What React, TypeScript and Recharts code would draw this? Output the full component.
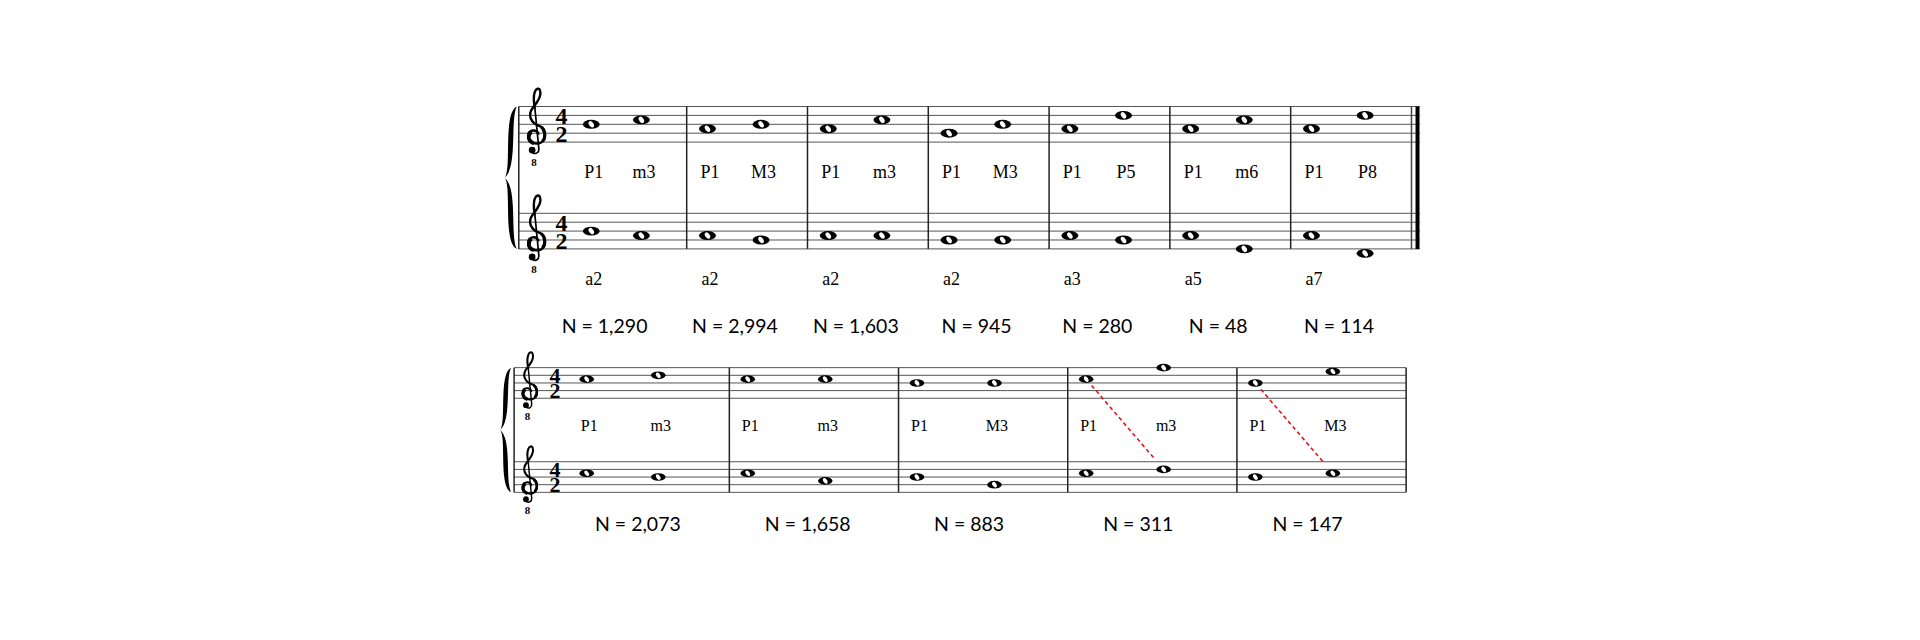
import { ReferenceLine, Scatter, ScatterChart, XAxis, YAxis } from "recharts";

// first system: interval of the second note against P1, and the melodic step below
const topIntervals1 = ["m3", "M3", "m3", "M3", "P5", "m6", "P8"];
const bottomIntervals1 = ["a2", "a2", "a2", "a2", "a3", "a5", "a7"];
const counts1 = ["1,290", "2,994", "1,603", "945", "280", "48", "114"];
// staff steps: 0 = bottom line, 8 = top line; [first note, second note] per bar
const upperNotes1 = [[4, 5], [3, 4], [3, 5], [2, 4], [3, 6], [3, 5], [3, 6]];
const lowerNotes1 = [[4, 3], [3, 2], [3, 3], [2, 2], [3, 2], [3, 0], [3, -1]];

// second system
const topIntervals2 = ["m3", "m3", "M3", "m3", "M3"];
const counts2 = ["2,073", "1,658", "883", "311", "147"];
const upperNotes2 = [[5, 6], [5, 5], [4, 4], [5, 8], [4, 7]];
const lowerNotes2 = [[5, 4], [5, 3], [4, 2], [5, 6], [4, 5]];
const crossedBars2 = [3, 4];

const SERIF = "'Liberation Serif', 'Times New Roman', serif";
const SANS = "Lato, 'Open Sans', sans-serif";

type Layout = {
  origin: number;
  unit: number;
  base: number;
  step: number;
  xDomain: [number, number];
  yDomain: [number, number];
  upper: number;
  staffStart: number;
  staffEnd: number;
  bars: number;
  noteX: number[];
  firstNoteX: number[];
  labelSize: number;
  labelRow: number;
  aRow: number;
  countRow: number;
  countX: number;
  firstCountX: number;
  countAnchor: "middle" | "start";
  clefX: number;
  timeX: number;
  timeSize: number;
  braceX: number;
  braceW: number;
  finalThick: boolean;
};

const sys1: Layout = {
  origin: 566.2,
  unit: 120.8,
  base: 249,
  step: 4.45,
  xDomain: [-0.62, 7.2],
  yDomain: [-22, 42],
  upper: 24,
  staffStart: -0.39,
  staffEnd: 7.07,
  bars: 7,
  noteX: [0.172, 0.616],
  firstNoteX: [0.21, 0.625],
  labelSize: 18,
  labelRow: 15.9,
  aRow: -8.1,
  countRow: -18.8,
  countX: 0.4,
  firstCountX: 0.32,
  countAnchor: "middle",
  clefX: -0.25,
  timeX: -0.037,
  timeSize: 24,
  braceX: -0.507,
  braceW: 12,
  finalThick: true
};

const sys2: Layout = {
  origin: 560.1,
  unit: 169.2,
  base: 492.3,
  step: 3.825,
  xDomain: [-0.45, 5.1],
  yDomain: [-12, 38],
  upper: 24.6,
  staffStart: -0.272,
  staffEnd: 5.0,
  bars: 5,
  noteX: [0.109, 0.567],
  firstNoteX: [0.157, 0.58],
  labelSize: 16,
  labelRow: 16.1,
  aRow: 0,
  countRow: -10.0,
  countX: 0.21,
  firstCountX: 0.206,
  countAnchor: "start",
  clefX: -0.184,
  timeX: -0.03,
  timeSize: 22,
  braceX: -0.355,
  braceW: 11,
  finalThick: false
};

function Notehead({ cx, cy, sp }: { cx: number; cy: number; sp: number }) {
  return (
    <g transform={`translate(${cx},${cy})`}>
      <ellipse rx={sp * 0.95} ry={sp * 0.5} fill="#000" />
      <ellipse rx={sp * 0.4} ry={sp * 0.25} transform="rotate(55)" fill="#fff" />
    </g>
  );
}

// treble clef drawn in staff-space units, origin on the G line
function Clef({ cx, cy, sp }: { cx: number; cy: number; sp: number }) {
  return (
    <g>
      <g transform={`translate(${cx},${cy}) scale(${sp})`}>
        <path
          d="M 0.3 0.05 C 0.1 -0.5 -0.8 -0.4 -0.85 0.25 C -0.9 1.0 0.0 1.35 0.6 1.05 C 1.25 0.7 1.2 -0.55 0.45 -0.8 C -0.5 -1.1 -1.0 -2.0 -0.3 -2.9 C 0.3 -3.6 0.65 -4.3 0.5 -4.75 C 0.4 -5.15 0.05 -5.05 -0.1 -4.65 C -0.3 -4.1 -0.2 -3.4 -0.1 -2.9"
          fill="none"
          stroke="#000"
          strokeWidth={0.27}
          strokeLinecap="round"
        />
        <path d="M -0.5 -0.15 C -0.95 0.3 -0.85 0.95 -0.2 1.15" fill="none" stroke="#000" strokeWidth={0.42} />
        <path d="M 0.75 0.9 C 1.15 0.5 1.1 -0.4 0.6 -0.7" fill="none" stroke="#000" strokeWidth={0.34} />
        <path d="M -0.1 -2.9 L 0.35 1.7 C 0.4 2.2 0.0 2.4 -0.35 2.2" fill="none" stroke="#000" strokeWidth={0.19} />
        <circle cx={-0.4} cy={1.9} r={0.38} fill="#000" />
      </g>
      <text
        x={cx - 0.2 * sp}
        y={cy + 3.35 * sp + 3.4}
        textAnchor="middle"
        fontFamily={SERIF}
        fontWeight="bold"
        fontSize={11}
        fill="#000"
      >
        8
      </text>
    </g>
  );
}

function Brace({ cx, cy, w, h }: { cx: number; cy: number; w: number; h: number }) {
  const d = [
    `M ${w} ${-h}`,
    `C ${-0.15 * w} ${-0.9 * h} ${0.6 * w} ${-0.12 * h} 0 0`,
    `C ${0.6 * w} ${0.12 * h} ${-0.15 * w} ${0.9 * h} ${w} ${h}`,
    `C ${0.45 * w} ${0.8 * h} ${1.1 * w} ${0.15 * h} 0 0`,
    `C ${1.1 * w} ${-0.15 * h} ${0.45 * w} ${-0.8 * h} ${w} ${-h}`,
    "Z"
  ].join(" ");
  return <path transform={`translate(${cx},${cy})`} d={d} fill="#000" />;
}

type SystemProps = {
  L: Layout;
  upperNotes: number[][];
  lowerNotes: number[][];
  tops: string[];
  bottoms?: string[];
  counts: string[];
  crossed?: number[];
};

function System({ L, upperNotes, lowerNotes, tops, bottoms, counts, crossed = [] }: SystemProps) {
  const width = (L.xDomain[1] - L.xDomain[0]) * L.unit;
  const height = (L.yDomain[1] - L.yDomain[0]) * L.step;
  const left = L.origin + L.xDomain[0] * L.unit;
  const top = L.base - L.yDomain[1] * L.step;
  const sp = L.step * 2;
  const nudge = 2.5 / L.unit;
  const nx = (i: number, j: number) => i + (i === 0 ? L.firstNoteX[j] : L.noteX[j]);

  const notes = [
    ...upperNotes.flatMap((pair, i) => pair.map((s, j) => ({ x: nx(i, j), y: s + L.upper }))),
    ...lowerNotes.flatMap((pair, i) => pair.map((s, j) => ({ x: nx(i, j), y: s })))
  ];
  const labels = [
    ...tops.flatMap((t, i) => [
      { x: nx(i, 0) + nudge, y: L.labelRow, text: "P1" },
      { x: nx(i, 1) + nudge, y: L.labelRow, text: t }
    ]),
    ...(bottoms ?? []).map((b, i) => ({ x: nx(i, 0) + nudge, y: L.aRow, text: b }))
  ];
  const countLabels = counts.map((c, i) => ({
    x: i + (i === 0 ? L.firstCountX : L.countX),
    y: L.countRow,
    text: `N = ${c}`
  }));
  const staffLines = [0, L.upper].flatMap((b) => [0, 2, 4, 6, 8].map((k) => b + k));
  const barlines = Array.from({ length: L.bars }, (_, i) => i + 1);
  const staves = [{ x: L.clefX, y: 2 }, { x: L.clefX, y: L.upper + 2 }];
  const meters = [{ x: L.timeX, y: 0 }, { x: L.timeX, y: L.upper }];
  const braceMid = [{ x: L.braceX, y: (L.upper + 8) / 2 }];
  const braceH = ((L.upper + 8) / 2) * L.step;

  return (
    <div style={{ position: "absolute", left, top, width, height }}>
      <ScatterChart width={width} height={height} margin={{ top: 0, right: 0, bottom: 0, left: 0 }}>
        <XAxis type="number" dataKey="x" domain={L.xDomain} allowDataOverflow hide />
        <YAxis type="number" dataKey="y" domain={L.yDomain} allowDataOverflow hide />
        {staffLines.map((y) => (
          <ReferenceLine
            key={`s${y}`}
            segment={[{ x: L.staffStart, y }, { x: L.staffEnd, y }]}
            stroke="#555"
            strokeWidth={1}
          />
        ))}
        <ReferenceLine
          segment={[{ x: L.staffStart, y: 0 }, { x: L.staffStart, y: L.upper + 8 }]}
          stroke="#222"
          strokeWidth={1.5}
        />
        {barlines.map((b) => (
          <ReferenceLine
            key={`b${b}`}
            segment={[{ x: b, y: 0 }, { x: b, y: L.upper + 8 }]}
            stroke={b === L.bars && L.finalThick ? "#444" : "#222"}
            strokeWidth={1.5}
          />
        ))}
        {L.finalThick && (
          <ReferenceLine
            segment={[{ x: L.bars + 0.05, y: 0 }, { x: L.bars + 0.05, y: L.upper + 8 }]}
            stroke="#000"
            strokeWidth={4}
          />
        )}
        {crossed.map((i) => {
          const x1 = nx(i, 0);
          const y1 = upperNotes[i][0] + L.upper;
          const x2 = nx(i, 1);
          const y2 = lowerNotes[i][1];
          const at = (t: number) => ({ x: x1 + (x2 - x1) * t, y: y1 + (y2 - y1) * t });
          return (
            <ReferenceLine
              key={`c${i}`}
              segment={[at(0.07), at(0.87)]}
              stroke="#e3161b"
              strokeWidth={1.6}
              strokeDasharray="4 3"
            />
          );
        })}
        <Scatter
          data={braceMid}
          isAnimationActive={false}
          shape={(p: any) => <Brace cx={p.cx} cy={p.cy} w={L.braceW} h={braceH} />}
        />
        <Scatter
          data={staves}
          isAnimationActive={false}
          shape={(p: any) => <Clef cx={p.cx} cy={p.cy} sp={sp} />}
        />
        <Scatter
          data={meters}
          isAnimationActive={false}
          shape={(p: any) => (
            <text
              x={`${p.cx} ${p.cx}`}
              y={`${p.cy - 4 * L.step} ${p.cy}`}
              fontFamily={SERIF}
              fontWeight="bold"
              fontSize={L.timeSize}
              fill="#000"
              textAnchor="middle"
            >
              42
            </text>
          )}
        />
        <Scatter
          data={notes}
          isAnimationActive={false}
          shape={(p: any) => <Notehead cx={p.cx} cy={p.cy} sp={sp} />}
        />
        <Scatter
          data={labels}
          isAnimationActive={false}
          shape={(p: any) => (
            <text x={p.cx} y={p.cy} textAnchor="middle" fontFamily={SERIF} fontSize={L.labelSize} fill="#000">
              {p.payload.text}
            </text>
          )}
        />
        <Scatter
          data={countLabels}
          isAnimationActive={false}
          shape={(p: any) => (
            <text x={p.cx} y={p.cy} textAnchor={L.countAnchor} fontFamily={SANS} fontSize={19.5} fill="#000">
              {p.payload.text}
            </text>
          )}
        />
      </ScatterChart>
    </div>
  );
}

export default function App() {
  return (
    <div style={{ position: "absolute", left: 0, top: 0, width: 1920, height: 640, background: "#fff" }}>
      <System
        L={sys1}
        upperNotes={upperNotes1}
        lowerNotes={lowerNotes1}
        tops={topIntervals1}
        bottoms={bottomIntervals1}
        counts={counts1}
      />
      <System
        L={sys2}
        upperNotes={upperNotes2}
        lowerNotes={lowerNotes2}
        tops={topIntervals2}
        counts={counts2}
        crossed={crossedBars2}
      />
    </div>
  );
}
